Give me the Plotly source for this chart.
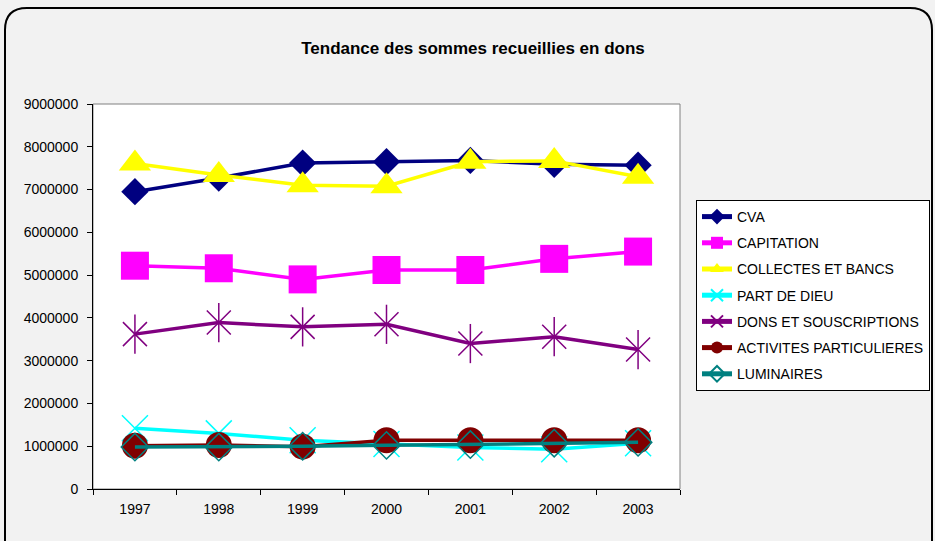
import plotly.graph_objects as go

# Data
annees = ["1997", "1998", "1999", "2000", "2001", "2002", "2003"]

cva = [6950000, 7270000, 7620000, 7650000, 7680000, 7590000, 7570000]
capitation = [5220000, 5160000, 4900000, 5120000, 5120000, 5380000, 5550000]
collectes = [7610000, 7340000, 7100000, 7080000, 7650000, 7670000, 7300000]
part_de_dieu = [1420000, 1300000, 1140000, 1050000, 970000, 930000, 1070000]
dons = [3620000, 3890000, 3790000, 3850000, 3400000, 3560000, 3260000]
activites = [1010000, 1030000, 990000, 1140000, 1140000, 1140000, 1140000]
luminaires = [980000, 980000, 1000000, 1020000, 1040000, 1070000, 1090000]

y_ticks = [0, 1000000, 2000000, 3000000, 4000000, 5000000, 6000000, 7000000, 8000000, 9000000]

FONT = "Liberation Sans, Arial, sans-serif"

series = [
    ("CVA", cva, "#000080", dict(symbol="diamond", size=21)),
    ("CAPITATION", capitation, "#FF00FF", dict(symbol="square", size=28)),
    ("COLLECTES ET BANCS", collectes, "#FFFF00", dict(symbol="triangle-up", size=28)),
    ("PART DE DIEU", part_de_dieu, "#00FFFF", dict(symbol="x-thin-open", size=26, line=dict(width=1.5))),
    ("DONS ET SOUSCRIPTIONS", dons, "#800080", dict(symbol="x-thin-open", size=24, line=dict(width=1.5))),
    ("ACTIVITES PARTICULIERES", activites, "#800000", dict(symbol="circle", size=26)),
    ("LUMINAIRES", luminaires, "#008080", dict(symbol="diamond-open", size=21, line=dict(width=1.5))),
]

fig = go.Figure()
for name, vals, color, mk in series:
    fig.add_trace(go.Scatter(
        x=annees, y=vals, name=name, mode="lines+markers",
        line=dict(color=color, width=3.5),
        marker=dict(color=color, **mk),
        legendgroup=name,
    ))
    if name == "DONS ET SOUSCRIPTIONS":
        # vertical stroke of the star marker
        fig.add_trace(go.Scatter(
            x=annees, y=vals, mode="markers", showlegend=False, hoverinfo="skip",
            marker=dict(symbol="line-ns-open", size=28, color=color, line=dict(width=1.5, color=color)),
        ))


def px_x(px):
    return (px - 93) / 587


def px_y(py):
    return (489 - py) / 385


# outer rounded frame (paper coordinates)
xl, xr = px_x(5), px_x(932)
yt, yb = px_y(8), px_y(560)
rx, ry = 22 / 587, 22 / 385
frame = (f"M{xl},{yb} L{xl},{yt - ry} Q{xl},{yt} {xl + rx},{yt} "
         f"L{xr - rx},{yt} Q{xr},{yt} {xr},{yt - ry} L{xr},{yb}")

fig.update_layout(
    width=935, height=541,
    margin=dict(l=93, r=255, t=104, b=52),
    paper_bgcolor="#F2F2F2",
    plot_bgcolor="#FFFFFF",
    font=dict(family=FONT, size=14, color="#000000"),
    title=dict(text="<b>Tendance des sommes recueillies en dons</b>",
               x=473 / 935, xanchor="center", y=1 - 48 / 541, yanchor="middle",
               font=dict(family=FONT, size=17, color="#000000")),
    xaxis=dict(type="category", range=[-0.5, 6.5], showgrid=False,
               showline=True, linecolor="#000000", linewidth=1,
               ticks="outside", ticklen=5, tickcolor="#000000", tickson="boundaries",
               tickfont=dict(size=14), ticklabelstandoff=7),
    yaxis=dict(range=[0, 9000000], tickvals=y_ticks, tickformat="d", showgrid=False,
               showline=True, linecolor="#000000", linewidth=1, zeroline=False,
               ticks="outside", ticklen=5, tickcolor="#000000",
               tickfont=dict(size=14), ticklabelstandoff=6),
    legend=dict(xref="container", yref="container",
                x=930 / 935, y=1 - 200 / 541, xanchor="right", yanchor="top",
                bgcolor="#FFFFFF", bordercolor="#000000", borderwidth=1,
                font=dict(family=FONT, size=14), itemsizing="constant",
                tracegroupgap=5, itemwidth=30),
    shapes=[
        dict(type="rect", xref="paper", yref="paper", x0=0, y0=0, x1=1, y1=1,
             line=dict(color="#808080", width=1), layer="below"),
        dict(type="path", xref="paper", yref="paper", path=frame,
             line=dict(color="#000000", width=2)),
    ],
    showlegend=True,
)

fig.write_html("out.html", config={"displayModeBar": False},
               post_script="document.body.style.margin='0';")
